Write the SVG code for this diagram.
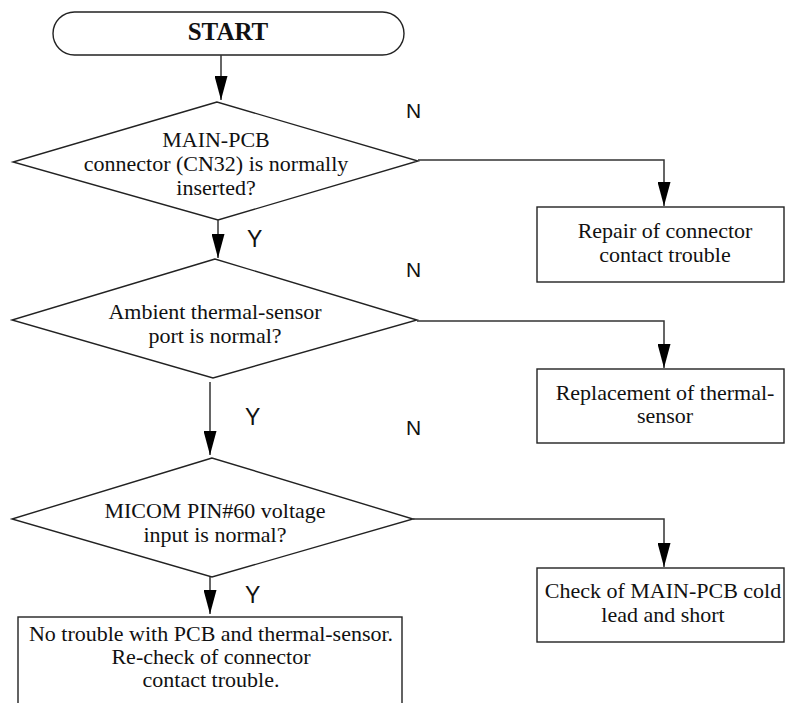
<svg xmlns="http://www.w3.org/2000/svg" width="785" height="703" viewBox="0 0 785 703">
<style>
.shape{fill:#fff;stroke:#222;stroke-width:1.4}
.t{font-family:"Liberation Serif","Times New Roman",serif;font-size:22px;fill:#111;text-anchor:middle}
.lbl{font-family:"Liberation Sans",Arial,sans-serif;font-size:21px;fill:#111}
.c{fill:none;stroke:#333;stroke-width:1.5}
</style>
<defs>
<marker id="ah" viewBox="0 0 24 13" refX="24" refY="6.5" markerWidth="24" markerHeight="13" markerUnits="userSpaceOnUse" orient="auto">
<path d="M0,0 L24,6.5 L0,13 z" fill="#000"/>
</marker>
</defs>
<rect width="785" height="703" fill="#fff"/>
<g id="start">
<rect class="shape" x="53" y="12" width="351" height="43" rx="21.5"/>
<text class="t" x="228" y="40" style="font-weight:bold;font-size:25px">START</text>
</g>
<g id="d1">
<polygon class="shape" points="217,102 13,162 218,220 418,161"/>
<text class="t" x="216" y="147">MAIN-PCB</text>
<text class="t" x="216" y="171">connector (CN32) is normally</text>
<text class="t" x="216" y="195">inserted?</text>
</g>
<g id="d2">
<polygon class="shape" points="215,259 12,320 213,378 417,320"/>
<text class="t" x="215" y="319">Ambient thermal-sensor</text>
<text class="t" x="215" y="343">port is normal?</text>
</g>
<g id="d3">
<polygon class="shape" points="212,458 12,519 212,577 413,519"/>
<text class="t" x="215" y="518">MICOM PIN#60 voltage</text>
<text class="t" x="215" y="542">input is normal?</text>
</g>
<g id="b1">
<rect class="shape" x="537" y="207" width="247" height="75"/>
<text class="t" x="665" y="238">Repair of connector</text>
<text class="t" x="665" y="262">contact trouble</text>
</g>
<g id="b2">
<rect class="shape" x="537" y="369" width="247" height="74"/>
<text class="t" x="665" y="400">Replacement of thermal-</text>
<text class="t" x="665" y="423">sensor</text>
</g>
<g id="b3">
<rect class="shape" x="537" y="568" width="247" height="74"/>
<text class="t" x="663" y="598">Check of MAIN-PCB cold</text>
<text class="t" x="663" y="622">lead and short</text>
</g>
<g id="b4">
<rect class="shape" x="18" y="617" width="384" height="100"/>
<text class="t" x="211" y="641">No trouble with PCB and thermal-sensor.</text>
<text class="t" x="211" y="664">Re-check of connector</text>
<text class="t" x="211" y="687">contact trouble.</text>
</g>
<g id="connectors">
<path class="c" d="M221,55 V100" marker-end="url(#ah)"/>
<path class="c" d="M218,220 V258" marker-end="url(#ah)"/>
<path class="c" d="M210,382 V455" marker-end="url(#ah)"/>
<path class="c" d="M210,577 V614" marker-end="url(#ah)"/>
<path class="c" d="M418,160 H664 V206" marker-end="url(#ah)"/>
<path class="c" d="M417,321 H664 V368" marker-end="url(#ah)"/>
<path class="c" d="M413,519 H664 V567" marker-end="url(#ah)"/>
</g>
<g id="labels">
<text class="lbl" x="406" y="118">N</text>
<text class="lbl" x="406" y="277">N</text>
<text class="lbl" x="406" y="435">N</text>
<text class="lbl" x="247" y="247" style="font-size:23px">Y</text>
<text class="lbl" x="245" y="425" style="font-size:23px">Y</text>
<text class="lbl" x="245" y="603" style="font-size:23px">Y</text>
</g>
</svg>
